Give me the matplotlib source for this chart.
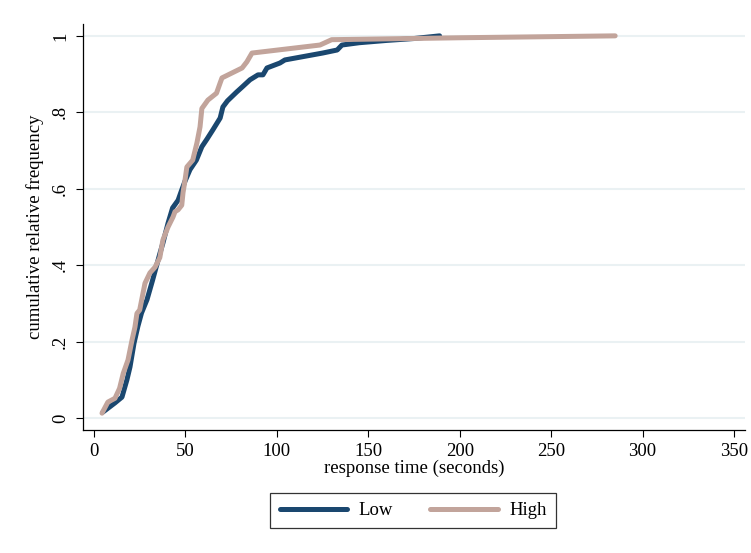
import matplotlib
matplotlib.use("Agg")
import matplotlib.pyplot as plt

# Data (response time in seconds, cumulative relative frequency)
low_x = [4.9, 11.5, 15.3, 18.0, 19.7, 21.9, 24.0, 26.0, 29.0, 32.0, 36.0, 37.7, 40.5,
         43.0, 46.0, 48.0, 49.8, 52.5, 56.0, 59.0, 61.8, 65.0, 69.0, 70.5, 73.0, 78.0,
         81.0, 85.3, 89.7, 92.4, 94.6, 101.7, 104.4, 125.0, 133.0, 135.6, 145.0, 160.0,
         175.0, 189.0]
low_y = [0.016, 0.040, 0.055, 0.100, 0.134, 0.196, 0.240, 0.275, 0.310, 0.360, 0.430,
         0.458, 0.510, 0.550, 0.570, 0.597, 0.620, 0.650, 0.675, 0.710, 0.730, 0.754,
         0.785, 0.814, 0.830, 0.853, 0.866, 0.885, 0.898, 0.898, 0.916, 0.929, 0.937,
         0.955, 0.963, 0.976, 0.982, 0.988, 0.993, 1.000]

high_x = [4.4, 7.6, 11.5, 14.0, 16.0, 18.6, 20.8, 22.4, 23.5, 25.0, 27.9, 30.6, 33.4,
          36.0, 37.7, 40.5, 43.2, 44.3, 46.0, 48.0, 48.7, 49.8, 50.8, 54.0, 56.3, 58.0,
          59.0, 62.3, 67.0, 69.0, 70.0, 81.0, 83.6, 86.4, 123.6, 130.0, 145.0, 200.0,
          285.0]
high_y = [0.013, 0.042, 0.052, 0.078, 0.117, 0.152, 0.204, 0.238, 0.274, 0.283, 0.353,
          0.380, 0.395, 0.420, 0.466, 0.500, 0.526, 0.540, 0.545, 0.557, 0.590, 0.623,
          0.657, 0.675, 0.720, 0.762, 0.810, 0.832, 0.850, 0.877, 0.890, 0.916, 0.932,
          0.955, 0.976, 0.990, 0.991, 0.995, 1.000]

x_ticks = [0, 50, 100, 150, 200, 250, 300, 350]
y_ticks = [0, 0.2, 0.4, 0.6, 0.8, 1.0]
y_tick_labels = ["0", ".2", ".4", ".6", ".8", "1"]

NAVY = "#1a476f"
ROSE = "#c2a49b"
GRID = "#eaf1f3"

plt.rcParams['font.family'] = ['Liberation Serif', 'DejaVu Serif']

fig = plt.figure(figsize=(7.51, 5.53), dpi=100)
ax = fig.add_axes([83/751, 123/553, 662/751, 406/553])

ax.plot(low_x, low_y, color=NAVY, lw=3.6, label="Low", solid_joinstyle="round",
        solid_capstyle="round", zorder=3)
ax.plot(high_x, high_y, color=ROSE, lw=3.6, label="High", solid_joinstyle="round",
        solid_capstyle="round", zorder=3)

ax.set_xlim(-6.0, 356.0)
ax.set_ylim(-0.031, 1.031)
ax.set_xticks(x_ticks)
ax.set_yticks(y_ticks)
ax.set_yticklabels(y_tick_labels, rotation=90, va="center")
ax.tick_params(axis="both", labelsize=13.5, length=5, width=0.8, color="black",
               direction="out")
ax.tick_params(axis="x", pad=4)
ax.tick_params(axis="y", pad=5)

ax.grid(axis="y", color=GRID, lw=1.5, zorder=0)
ax.set_axisbelow(True)

for s in ("top", "right"):
    ax.spines[s].set_visible(False)
for s in ("left", "bottom"):
    ax.spines[s].set_linewidth(0.9)

ax.set_xlabel("response time (seconds)", fontsize=13.5, labelpad=0)
ax.set_ylabel("cumulative relative frequency", fontsize=13.5, labelpad=6)

leg = fig.legend(loc="center", bbox_to_anchor=(413/751, 42.5/553), ncol=2,
                 fontsize=13.5, frameon=True, fancybox=False, handlelength=3.6,
                 handletextpad=0.6, columnspacing=2.0, borderpad=0.5)
leg.get_frame().set_edgecolor("black")
leg.get_frame().set_linewidth(0.9)

fig.savefig("out.png", dpi=100, facecolor="white")
